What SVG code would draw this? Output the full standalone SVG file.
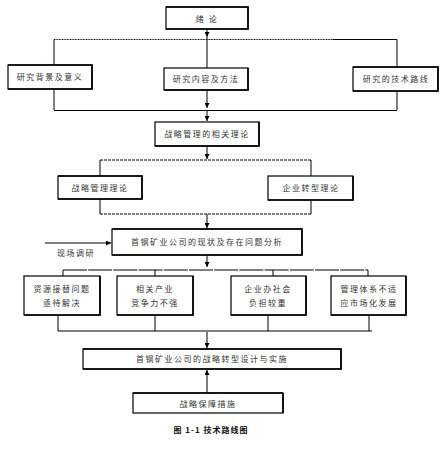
<svg xmlns="http://www.w3.org/2000/svg" width="447" height="449" viewBox="0 0 447 449">
<defs>
<marker id="ah" viewBox="0 0 6 6" refX="6" refY="3" markerWidth="5" markerHeight="5" orient="auto" markerUnits="userSpaceOnUse"><path d="M0,0 L6,3 L0,6 z" fill="#000"/></marker>
</defs>
<style>
.box{fill:#fff;stroke:#000;stroke-width:1.2}
.sh{fill:none;stroke:#000;stroke-width:1.6}
.t{font-family:"Noto Sans CJK SC","Liberation Sans",sans-serif;font-size:8px;fill:#333;text-anchor:middle;letter-spacing:1.5px}
.l{fill:none;stroke:#000;stroke-width:1}
.a{fill:none;stroke:#000;stroke-width:1;marker-end:url(#ah)}
.cap{font-family:"Noto Sans CJK SC","Liberation Sans",sans-serif;font-size:8px;font-weight:600;fill:#111;text-anchor:middle;letter-spacing:1px}
</style>
<rect width="447" height="449" fill="#fff"/>
<g id="connectors">
<path class="a" d="M207,29 V37"/>
<path class="l" d="M54,39.5 H333" stroke-dasharray="1 0.6"/>
<path class="l" d="M333,39.5 H397"/>
<path class="l" d="M54,39.5 V66 M397,39.5 V67 M207,37 V68"/>
<path class="l" d="M54,89 V110 M397,91 V110"/>
<path class="a" d="M207,90 V108"/>
<path class="l" d="M54,110.5 H397" stroke-width="2"/>
<path class="a" d="M207,111 V121"/>
<path class="a" d="M207,146 V159"/>
<path class="l" d="M100,160 H311" stroke-dasharray="3 1"/>
<path class="l" d="M100,160 V176 M311,160 V176 M100,199 V214 M311,200 V214"/>
<path class="l" d="M100,214 H311" stroke-dasharray="3 1"/>
<path class="a" d="M207,214 V228"/>
<path class="a" d="M45,243 H111"/>
<path class="a" d="M207,255 V267"/>
<path class="l" d="M63,270 H368" stroke-dasharray="24 1.2"/>
<path class="l" d="M63,270 V276 M155,270 V276 M273,270 V276 M368,270 V276"/>
<path class="l" d="M58,315 V331 M155,315 V331 M268,315 V331 M369,315 V331"/>
<path class="l" d="M58,331 H372" stroke-width="2"/>
<path class="a" d="M207,332 V348"/>
<path class="a" d="M207,393 V370"/>
</g>
<g id="n1"><rect class="box" x="166" y="7" width="82" height="22"/><path class="sh" d="M166,7 H248 V29 H166"/><text class="t" x="207" y="21.5">绪 论</text></g>
<g id="n2"><rect class="box" x="8" y="65" width="84" height="24"/><path class="sh" d="M8,65 H92 V89 H8"/><text class="t" x="50" y="80">研究背景及意义</text></g>
<g id="n3"><rect class="box" x="164" y="68" width="84" height="22"/><path class="sh" d="M248,68 V90 H164"/><text class="t" x="206" y="82">研究内容及方法</text></g>
<g id="n4"><rect class="box" x="353" y="67" width="85" height="24"/><path class="sh" d="M353,67 H438 V91 H353"/><text class="t" x="396" y="82">研究的技术路线</text></g>
<g id="n5"><rect class="box" x="155" y="122" width="104" height="24"/><path class="sh" d="M259,122 V146 H155"/><text class="t" x="207" y="137">战略管理的相关理论</text></g>
<g id="n6"><rect class="box" x="58" y="176" width="84" height="23"/><path class="sh" d="M58,176 H142 V199 H58"/><text class="t" x="100" y="191">战略管理理论</text></g>
<g id="n7"><rect class="box" x="268" y="176" width="85" height="24"/><path class="sh" d="M353,176 V200 H268"/><text class="t" x="311" y="191">企业转型理论</text></g>
<g id="n8"><rect class="box" x="112" y="229" width="190" height="26"/><path class="sh" d="M112,229 H302 V255 H112"/><text class="t" x="207" y="245">首钢矿业公司的现状及存在问题分析</text></g>
<text class="t" x="76" y="256">现场调研</text>
<g id="n9"><rect class="box" x="24" y="276" width="76" height="39"/><path class="sh" d="M100,276 V315 H24"/><text class="t" x="62" y="292">资源接替问题</text><text class="t" x="62" y="306">亟待解决</text></g>
<g id="n10"><rect class="box" x="117" y="276" width="76" height="39"/><path class="sh" d="M193,276 V315 H117"/><text class="t" x="155" y="292">相关产业</text><text class="t" x="155" y="306">竞争力不强</text></g>
<g id="n11"><rect class="box" x="231" y="276" width="75" height="39"/><path class="sh" d="M306,276 V315 H231"/><text class="t" x="268" y="292">企业办社会</text><text class="t" x="268" y="306">负担较重</text></g>
<g id="n12"><rect class="box" x="331" y="276" width="75" height="39"/><path class="sh" d="M406,276 V315 H331"/><text class="t" x="369" y="292">管理体系不适</text><text class="t" x="369" y="306">应市场化发展</text></g>
<g id="n13"><rect class="box" x="83" y="349" width="258" height="20"/><path class="sh" d="M83,349 H341 V369 H83"/><text class="t" x="212" y="362">首钢矿业公司的战略转型设计与实施</text></g>
<g id="n14"><rect class="box" x="133" y="393" width="150" height="20"/><path class="sh" d="M133,393 H283 M283,393 V413"/><text class="t" x="208" y="406.5">战略保障措施</text></g>
<text class="cap" x="211" y="433">图 1-1 技术路线图</text>
</svg>
